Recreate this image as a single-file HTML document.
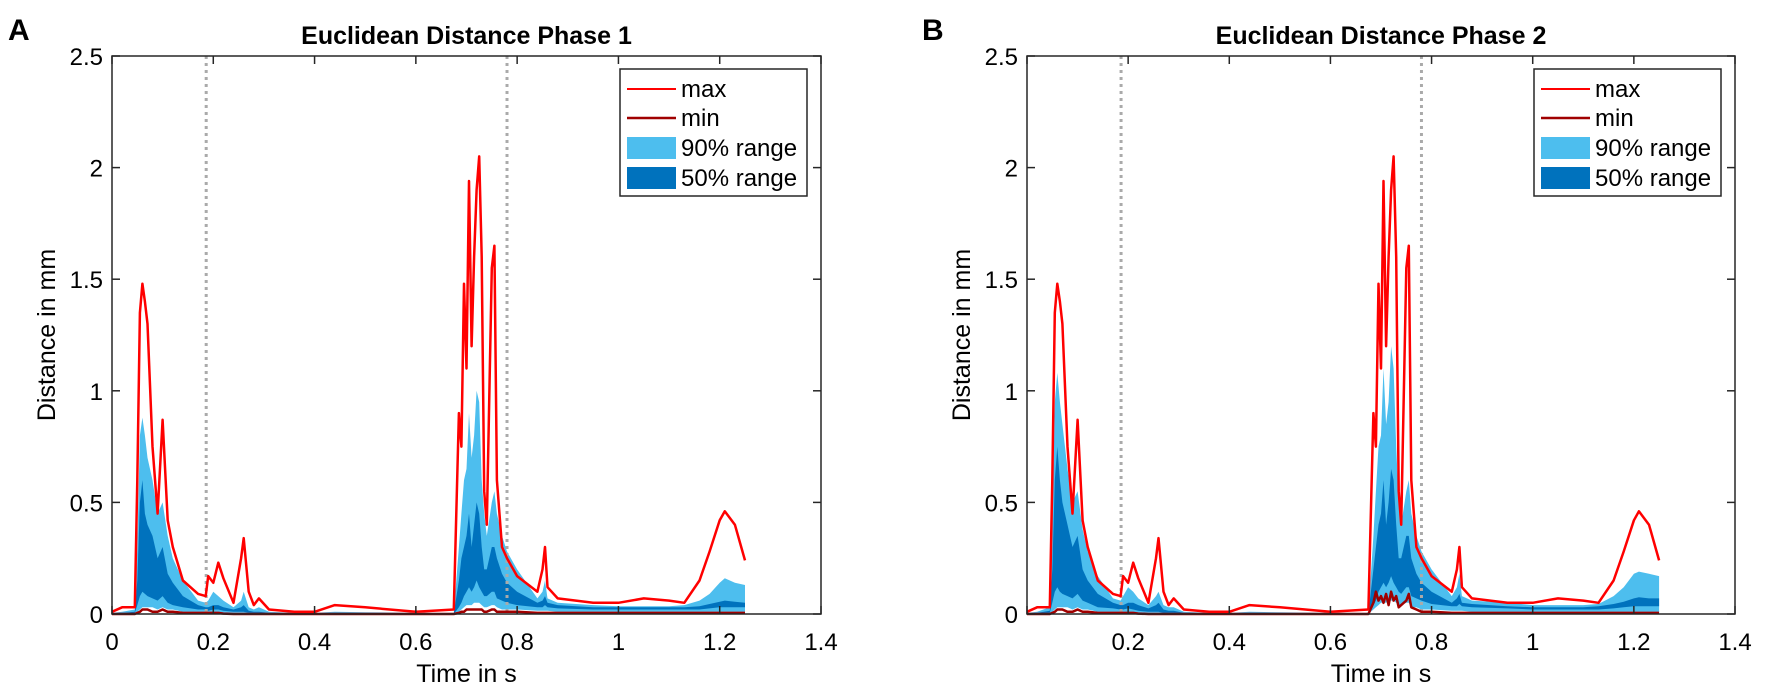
<!DOCTYPE html>
<html><head><meta charset="utf-8"><style>
html,body{margin:0;padding:0;background:#fff}
svg{display:block;font-family:"Liberation Sans",Arial,sans-serif}
</style></head><body>
<svg id="chart" width="1772" height="697" viewBox="0 0 1772 697" xmlns="http://www.w3.org/2000/svg"></svg>
<script>
const tA = [0,.02,.045,.05,.055,.06,.065,.07,.08,.09,.1,.11,.12,.14,.17,.185,.19,.2,.21,.22,.24,.255,.26,.27,.28,.29,.31,.36,.4,.44,.5,.6,.675,.685,.69,.695,.7,.705,.71,.715,.72,.725,.73,.735,.74,.75,.755,.76,.77,.78,.8,.84,.85,.855,.86,.88,.95,1.0,1.05,1.1,1.13,1.16,1.18,1.2,1.21,1.23,1.25];
const maxA = [.01,.03,.03,.6,1.35,1.48,1.4,1.3,.75,.45,.87,.42,.3,.15,.09,.08,.17,.14,.23,.16,.05,.25,.34,.1,.04,.07,.02,.01,.01,.04,.03,.01,.02,.9,.75,1.48,1.1,1.94,1.2,1.6,1.9,2.05,1.6,.55,.4,1.55,1.65,.6,.3,.25,.17,.1,.2,.3,.12,.07,.05,.05,.07,.06,.05,.15,.28,.42,.46,.4,.24];
const p95A = [.005,.01,.02,.3,.8,.88,.8,.7,.6,.45,.5,.35,.25,.15,.06,.05,.06,.1,.08,.06,.03,.06,.1,.03,.02,.03,.01,.005,.005,.01,.008,.005,.005,.3,.45,.6,.65,.9,.7,.8,1.0,.95,.6,.45,.35,.5,.55,.45,.35,.28,.2,.07,.1,.15,.07,.05,.04,.035,.035,.035,.04,.06,.09,.14,.16,.14,.13];
const p75A = [.003,.005,.01,.15,.5,.6,.45,.4,.35,.25,.3,.18,.14,.08,.04,.03,.03,.04,.04,.03,.02,.03,.04,.015,.01,.01,.005,.002,.002,.005,.004,.002,.003,.15,.25,.3,.35,.45,.3,.4,.5,.45,.3,.2,.2,.3,.3,.25,.18,.14,.1,.05,.06,.08,.05,.04,.03,.03,.03,.03,.03,.035,.045,.055,.06,.055,.05];
const p25A = [0,.002,.005,.04,.08,.1,.09,.08,.07,.06,.08,.05,.04,.03,.02,.02,.015,.02,.02,.015,.01,.01,.01,.005,.005,.005,0,0,0,0,0,0,0,.03,.05,.08,.1,.12,.1,.12,.15,.12,.1,.08,.08,.1,.1,.07,.06,.05,.04,.03,.03,.04,.03,.025,.02,.02,.02,.02,.02,.02,.025,.03,.03,.03,.03];
const p5A = [0,0,0,.01,.02,.03,.03,.03,.03,.02,.03,.02,.02,.01,.01,.01,.01,.01,.01,.005,.005,.005,.005,0,0,0,0,0,0,0,0,0,0,.01,.02,.03,.04,.04,.04,.05,.05,.05,.04,.03,.03,.04,.04,.03,.02,.02,.02,.015,.015,.015,.015,.01,.01,.01,.01,.01,.01,.01,.01,.01,.01,.01,.01];
const minA = [0,0,0,.005,.01,.02,.02,.02,.01,.01,.02,.01,.01,.005,.005,.005,.005,.005,.005,.002,0,0,0,0,0,0,0,0,0,0,0,0,0,.005,.01,.01,.02,.02,.02,.02,.02,.02,.02,.01,.01,.02,.02,.01,.01,.01,.01,.005,.005,.005,.005,.005,.005,.005,.005,.005,.005,.005,.005,.005,.005,.005,.005];
const p95B = [.005,.01,.03,.4,.95,1.08,.95,.85,.65,.5,.55,.38,.28,.17,.07,.06,.08,.12,.1,.07,.04,.08,.1,.04,.03,.03,.01,.005,.005,.01,.008,.005,.005,.35,.55,.75,.8,1.1,.85,.95,1.2,1.1,.75,.5,.4,.55,.6,.45,.35,.28,.2,.08,.12,.18,.08,.06,.05,.04,.04,.04,.045,.08,.12,.18,.19,.18,.17];
const p75B = [.003,.005,.015,.2,.6,.75,.6,.5,.4,.3,.35,.2,.15,.09,.05,.04,.04,.05,.05,.04,.025,.04,.05,.02,.015,.015,.005,.002,.002,.005,.004,.002,.003,.2,.3,.4,.45,.6,.4,.5,.65,.6,.4,.25,.25,.35,.35,.25,.18,.14,.1,.05,.07,.09,.05,.045,.035,.03,.03,.03,.035,.045,.055,.07,.075,.07,.07];
const p25B = [0,.002,.005,.05,.1,.12,.1,.09,.08,.07,.09,.06,.05,.03,.025,.02,.02,.025,.02,.015,.01,.01,.01,.005,.005,.005,0,0,0,0,0,0,0,.04,.06,.1,.12,.14,.12,.14,.17,.14,.12,.1,.09,.12,.12,.08,.07,.06,.045,.035,.035,.045,.035,.03,.025,.02,.02,.02,.02,.025,.03,.035,.035,.035,.035];
const p5B = [0,0,0,.01,.02,.03,.03,.03,.03,.02,.03,.02,.02,.01,.01,.01,.01,.01,.01,.005,.005,.005,.005,0,0,0,0,0,0,0,0,0,0,.02,.03,.04,.05,.05,.05,.06,.06,.06,.05,.04,.04,.05,.05,.03,.03,.02,.02,.015,.015,.015,.015,.01,.01,.01,.01,.01,.01,.01,.01,.01,.01,.01,.01];
const minB = [0,0,0,.005,.01,.02,.02,.02,.01,.01,.02,.01,.01,.005,.005,.005,.005,.005,.005,.002,0,0,0,0,0,0,0,0,0,0,0,0,0,.05,.1,.06,.08,.05,.09,.04,.1,.06,.08,.03,.04,.06,.09,.03,.02,.01,.01,.005,.005,.005,.005,.005,.005,.005,.005,.005,.005,.005,.005,.005,.005,.005,.005];
const xTicks = [0,0.2,0.4,0.6,0.8,1,1.2,1.4];
const yTicks = [0,0.5,1,1.5,2,2.5];
const vLines = [0.186,0.78];
const titles = ["Euclidean Distance Phase 1","Euclidean Distance Phase 2"];
const legendLabels = ["max","min","90% range","50% range"];

const NS="http://www.w3.org/2000/svg";
const svgRoot=document.getElementById('chart');
function mk(tag,attrs,parent){const e=document.createElementNS(NS,tag);for(const k in attrs)e.setAttribute(k,attrs[k]);(parent||svgRoot).appendChild(e);return e;}

const panels=[
 {left:112,right:821,letter:"A",letterX:8,max:maxA,p95:p95A,p75:p75A,p25:p25A,p5:p5A,min:minA,showZero:true},
 {left:1027,right:1735,letter:"B",letterX:922,max:maxA,p95:p95B,p75:p75B,p25:p25B,p5:p5B,min:minB,showZero:false}
];
const plotTop=56,plotBottom=614;
panels.forEach((P,pi)=>{
 const g=mk('g',{});
 
 
 const X=v=>P.left+(v/1.4)*(P.right-P.left);
 const Y=v=>plotBottom-((v||0)/2.5)*(plotBottom-plotTop);
 const band=(lo,hi,color,name)=>{
  let d='M'+tA.map((t,i)=>X(t).toFixed(1)+','+Y(hi[i]).toFixed(1)).join('L');
  for(let i=tA.length-1;i>=0;i--)d+='L'+X(tA[i]).toFixed(1)+','+Y(lo[i]).toFixed(1);
  const p=mk('path',{d:d+'Z',fill:color,stroke:'none'},g);
  
  
 };
 band(P.p5,P.p95,'#4DBEEE','band-90-percent');
 band(P.p25,P.p75,'#0072BD','band-50-percent');
 vLines.forEach(v=>{
  const l=mk('line',{x1:X(v),x2:X(v),y1:plotTop,y2:plotBottom,stroke:'#aaaaaa','stroke-width':3,'stroke-dasharray':'3,4'},g);
  
  
 });
 const line=(arr,color,name)=>{
  const p=mk('polyline',{points:tA.map((t,i)=>X(t).toFixed(1)+','+Y(arr[i]).toFixed(1)).join(' '),fill:'none',stroke:color,'stroke-width':2.5,'stroke-linejoin':'round'},g);
  
  
 };
 line(P.min,'#A00000','min-line');
 line(P.max,'#FF0000','max-line');
 const box=mk('rect',{x:P.left,y:plotTop,width:P.right-P.left,height:plotBottom-plotTop,fill:'none',stroke:'#262626','stroke-width':1.5},g);
 
 
 xTicks.forEach(v=>{
  mk('line',{x1:X(v),x2:X(v),y1:plotBottom,y2:plotBottom-8,stroke:'#262626','stroke-width':1.5},g);
  mk('line',{x1:X(v),x2:X(v),y1:plotTop,y2:plotTop+8,stroke:'#262626','stroke-width':1.5},g);
  if(v===0&&!P.showZero)return;
  const t=mk('text',{x:X(v),y:650,'text-anchor':'middle','font-size':24,fill:'#000'},g);
  t.textContent=String(v);
  
  
 });
 yTicks.forEach(v=>{
  mk('line',{x1:P.left,x2:P.left+8,y1:Y(v),y2:Y(v),stroke:'#262626','stroke-width':1.5},g);
  mk('line',{x1:P.right,x2:P.right-8,y1:Y(v),y2:Y(v),stroke:'#262626','stroke-width':1.5},g);
  const t=mk('text',{x:P.left-9,y:Y(v)+9,'text-anchor':'end','font-size':24,fill:'#000'},g);
  t.textContent=String(v);
  
  
 });
 const cx=(P.left+P.right)/2;
 const ti=mk('text',{x:cx,y:44,'text-anchor':'middle','font-size':25,'font-weight':'bold',fill:'#000'},g);
 ti.textContent=titles[pi];
 
 
 const xl=mk('text',{x:cx,y:682,'text-anchor':'middle','font-size':25,fill:'#000'},g);
 xl.textContent='Time in s';
 
 
 const yl=mk('text',{x:0,y:0,'text-anchor':'middle','font-size':25,fill:'#000',transform:'translate('+(P.left-57)+','+((plotTop+plotBottom)/2)+') rotate(-90)'},g);
 yl.textContent='Distance in mm';
 
 
 const le=mk('text',{x:P.letterX,y:40,'font-size':30,'font-weight':'bold',fill:'#000'},g);
 le.textContent=P.letter;
 
 
 const lx=P.right-201,ly=69;
 const lg=mk('g',{},g);
 
 
 mk('rect',{x:lx,y:ly,width:187,height:127,fill:'#fff',stroke:'#262626','stroke-width':1.5},lg);
 const rows=[89,118,148,178];
 mk('line',{x1:lx+7,x2:lx+56,y1:rows[0],y2:rows[0],stroke:'#FF0000','stroke-width':2},lg);
 mk('line',{x1:lx+7,x2:lx+56,y1:rows[1],y2:rows[1],stroke:'#A00000','stroke-width':2.5},lg);
 mk('rect',{x:lx+7,y:rows[2]-11,width:49,height:22,fill:'#4DBEEE'},lg);
 mk('rect',{x:lx+7,y:rows[3]-11,width:49,height:22,fill:'#0072BD'},lg);
 legendLabels.forEach((s,i)=>{
  const t=mk('text',{x:lx+61,y:rows[i]+8,'font-size':24,fill:'#000'},lg);
  t.textContent=s;
  
  
 });
});
</script>
</body></html>
